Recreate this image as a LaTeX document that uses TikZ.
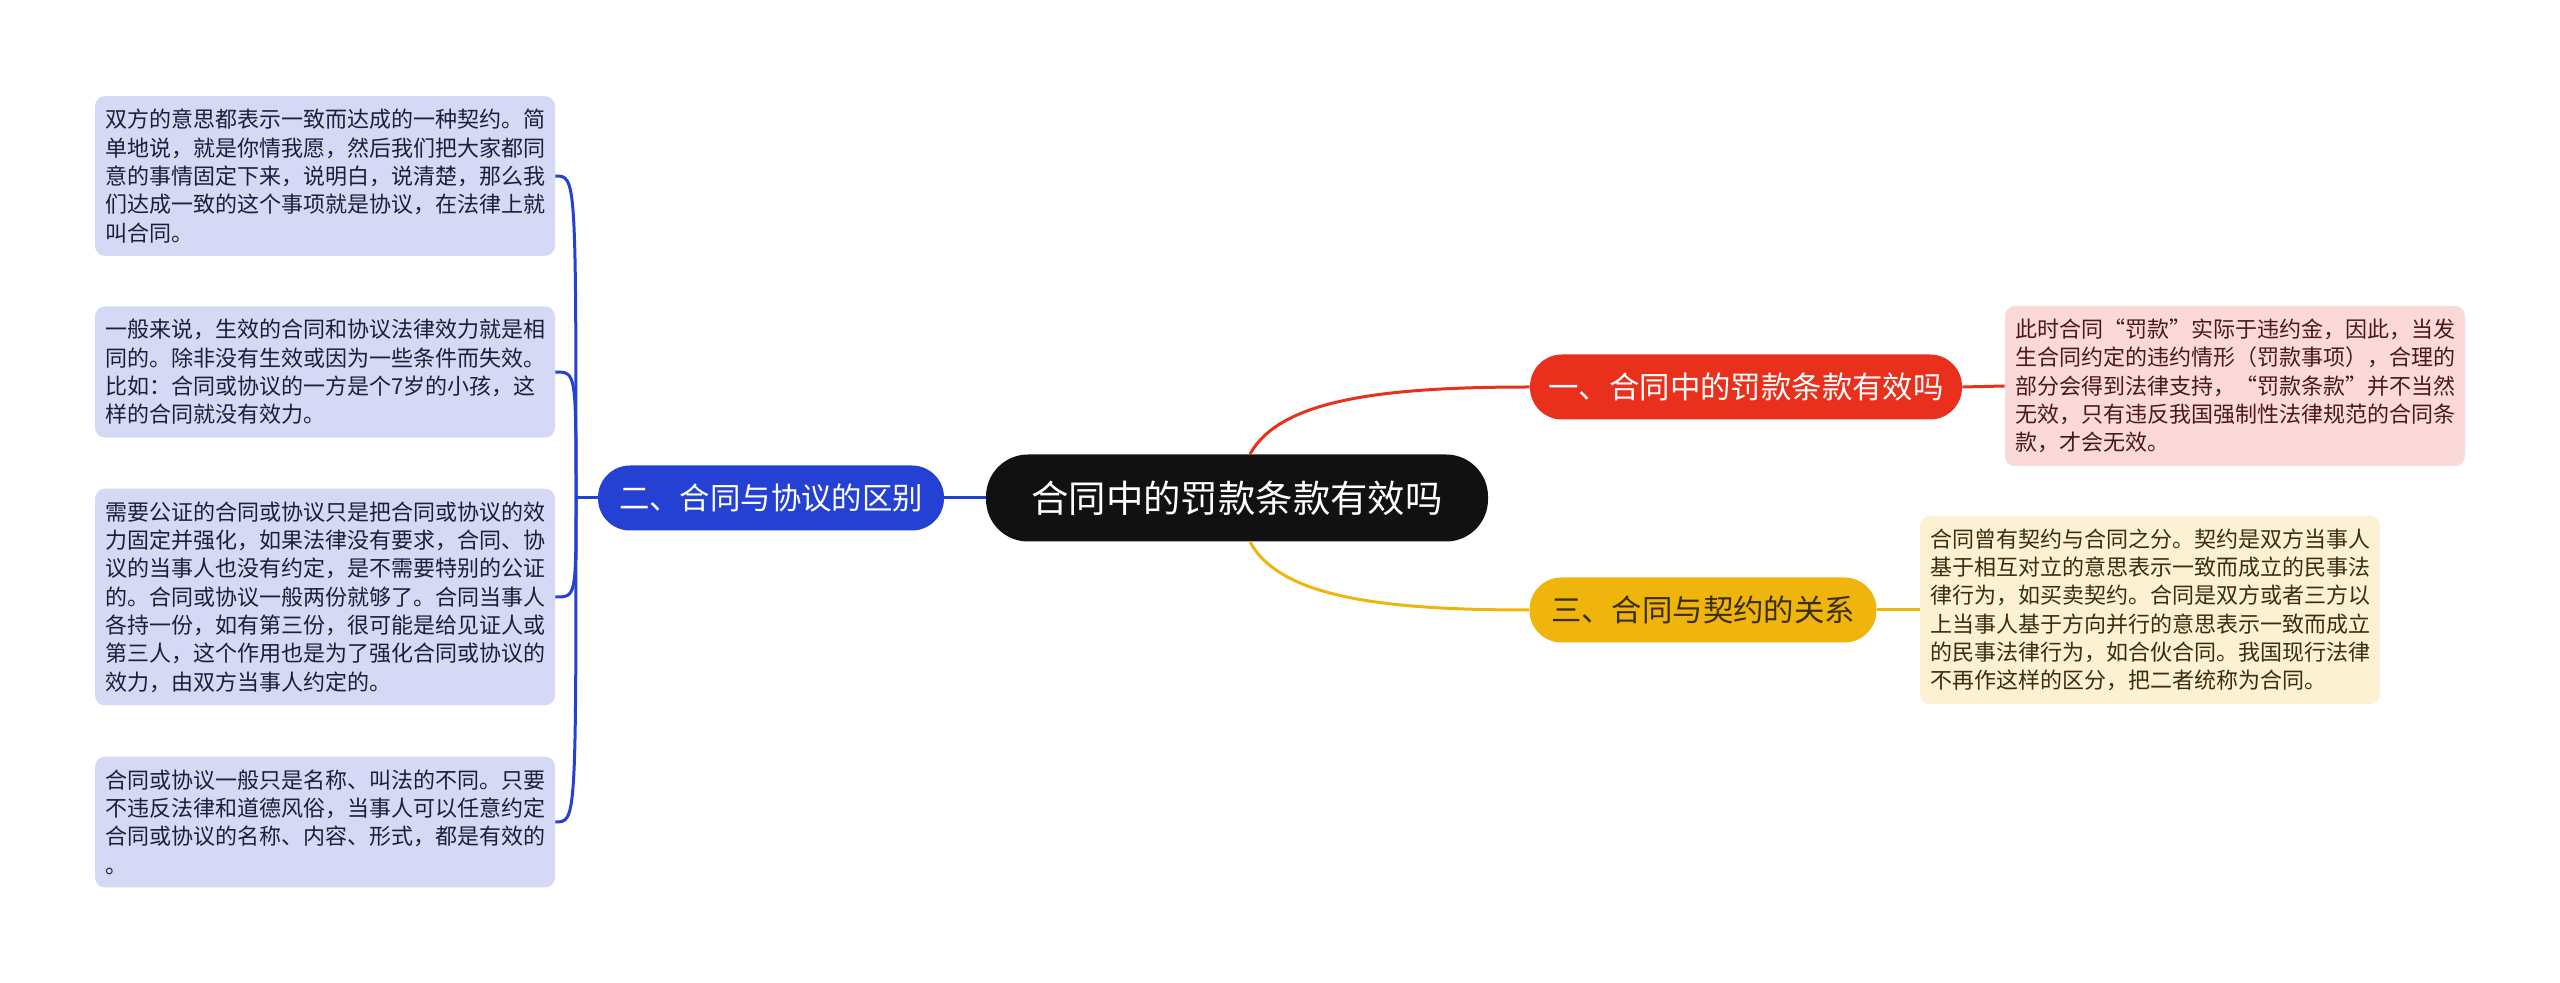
\documentclass[tikz,border=0pt]{standalone}
\usepackage{fontspec}
\setmainfont{Noto Sans CJK SC}
\definecolor{rootfill}{HTML}{111111}
\definecolor{bluemain}{HTML}{2541D3}
\definecolor{redmain}{HTML}{E8301C}
\definecolor{yellowmain}{HTML}{EFB50D}
\definecolor{blueleaf}{HTML}{D5D9F6}
\definecolor{redleaf}{HTML}{FBD9D9}
\definecolor{yellowleaf}{HTML}{FDF1D3}
\definecolor{bluetext}{HTML}{1E1E38}
\definecolor{redtext}{HTML}{4A1A1A}
\definecolor{yellowtext}{HTML}{3B2E0A}
\newcommand{\cnlq}{\makebox[1em][r]{“}}
\newcommand{\cnrq}{\makebox[1em][l]{”}}
\begin{document}
\begin{tikzpicture}[x=0.5pt,y=-0.5pt,
  root/.style={fill=rootfill,text=white,rounded corners=21pt,minimum width=251pt,minimum height=43.5pt,font=\fontsize{18.7pt}{22pt}\selectfont},
  branch/.style={rounded corners=16pt,minimum height=32.5pt,font=\fontsize{15.2pt}{18pt}\selectfont},
  leaf/.style={rounded corners=5pt,text width=220pt,align=left,inner xsep=5pt,inner ysep=6.5pt,font=\fontsize{11pt}{14.15pt}\selectfont},
  link/.style={line width=1.5pt}]
  \useasboundingbox (0,0) rectangle (2560,983);
  \node[root] (root) at (1237,498) {合同中的罚款条款有效吗};
  \node[branch,fill=redmain,text=white,minimum width=216pt] (pen) at (1746,387) {一、合同中的罚款条款有效吗};
  \node[branch,fill=bluemain,text=white,minimum width=173pt] (diff) at (771,498) {二、合同与协议的区别};
  \node[branch,fill=yellowmain,text=yellowtext,minimum width=173.5pt] (rel) at (1703,610) {三、合同与契约的关系};
  \node[leaf,fill=blueleaf,text=bluetext] (l1) at (325,176) {双方的意思都表示一致而达成的一种契约。简\\单地说，就是你情我愿，然后我们把大家都同\\意的事情固定下来，说明白，说清楚，那么我\\们达成一致的这个事项就是协议，在法律上就\\叫合同。};
  \node[leaf,fill=blueleaf,text=bluetext] (l2) at (325,372) {一般来说，生效的合同和协议法律效力就是相\\同的。除非没有生效或因为一些条件而失效。\\比如：合同或协议的一方是个7岁的小孩，这\\样的合同就没有效力。};
  \node[leaf,fill=blueleaf,text=bluetext] (l3) at (325,597) {需要公证的合同或协议只是把合同或协议的效\\力固定并强化，如果法律没有要求，合同、协\\议的当事人也没有约定，是不需要特别的公证\\的。合同或协议一般两份就够了。合同当事人\\各持一份，如有第三份，很可能是给见证人或\\第三人，这个作用也是为了强化合同或协议的\\效力，由双方当事人约定的。};
  \node[leaf,fill=blueleaf,text=bluetext] (l4) at (325,822) {合同或协议一般只是名称、叫法的不同。只要\\不违反法律和道德风俗，当事人可以任意约定\\合同或协议的名称、内容、形式，都是有效的\\。};
  \node[leaf,fill=redleaf,text=redtext] (r1) at (2235,386) {此时合同\cnlq 罚款\cnrq 实际于违约金，因此，当发\\生合同约定的违约情形（罚款事项），合理的\\部分会得到法律支持，\cnlq 罚款条款\cnrq 并不当然\\无效，只有违反我国强制性法律规范的合同条\\款，才会无效。};
  \node[leaf,fill=yellowleaf,text=yellowtext] (y1) at (2150,610) {合同曾有契约与合同之分。契约是双方当事人\\基于相互对立的意思表示一致而成立的民事法\\律行为，如买卖契约。合同是双方或者三方以\\上当事人基于方向并行的意思表示一致而成立\\的民事法律行为，如合伙合同。我国现行法律\\不再作这样的区分，把二者统称为合同。};
  \coordinate (bj) at (576,498);
  \draw[link,draw=bluemain] (diff.west) -- (bj);
  \draw[link,draw=bluemain] (diff.east) -- (root.west);
  \foreach \n in {l1,l2,l3,l4}
    \draw[link,draw=bluemain] (bj) .. controls (bj |- \n.east) and (bj |- \n.east) .. (\n.east);
  \draw[link,draw=redmain] ([xshift=6.5pt]root.north) .. controls (1280,400) and (1380,387) .. (pen.west);
  \draw[link,draw=redmain] (pen.east) -- (r1.west);
  \draw[link,draw=yellowmain] ([xshift=6.5pt]root.south) .. controls (1280,597) and (1380,610) .. (rel.west);
  \draw[link,draw=yellowmain] (rel.east) -- (y1.west);
\end{tikzpicture}
\end{document}
